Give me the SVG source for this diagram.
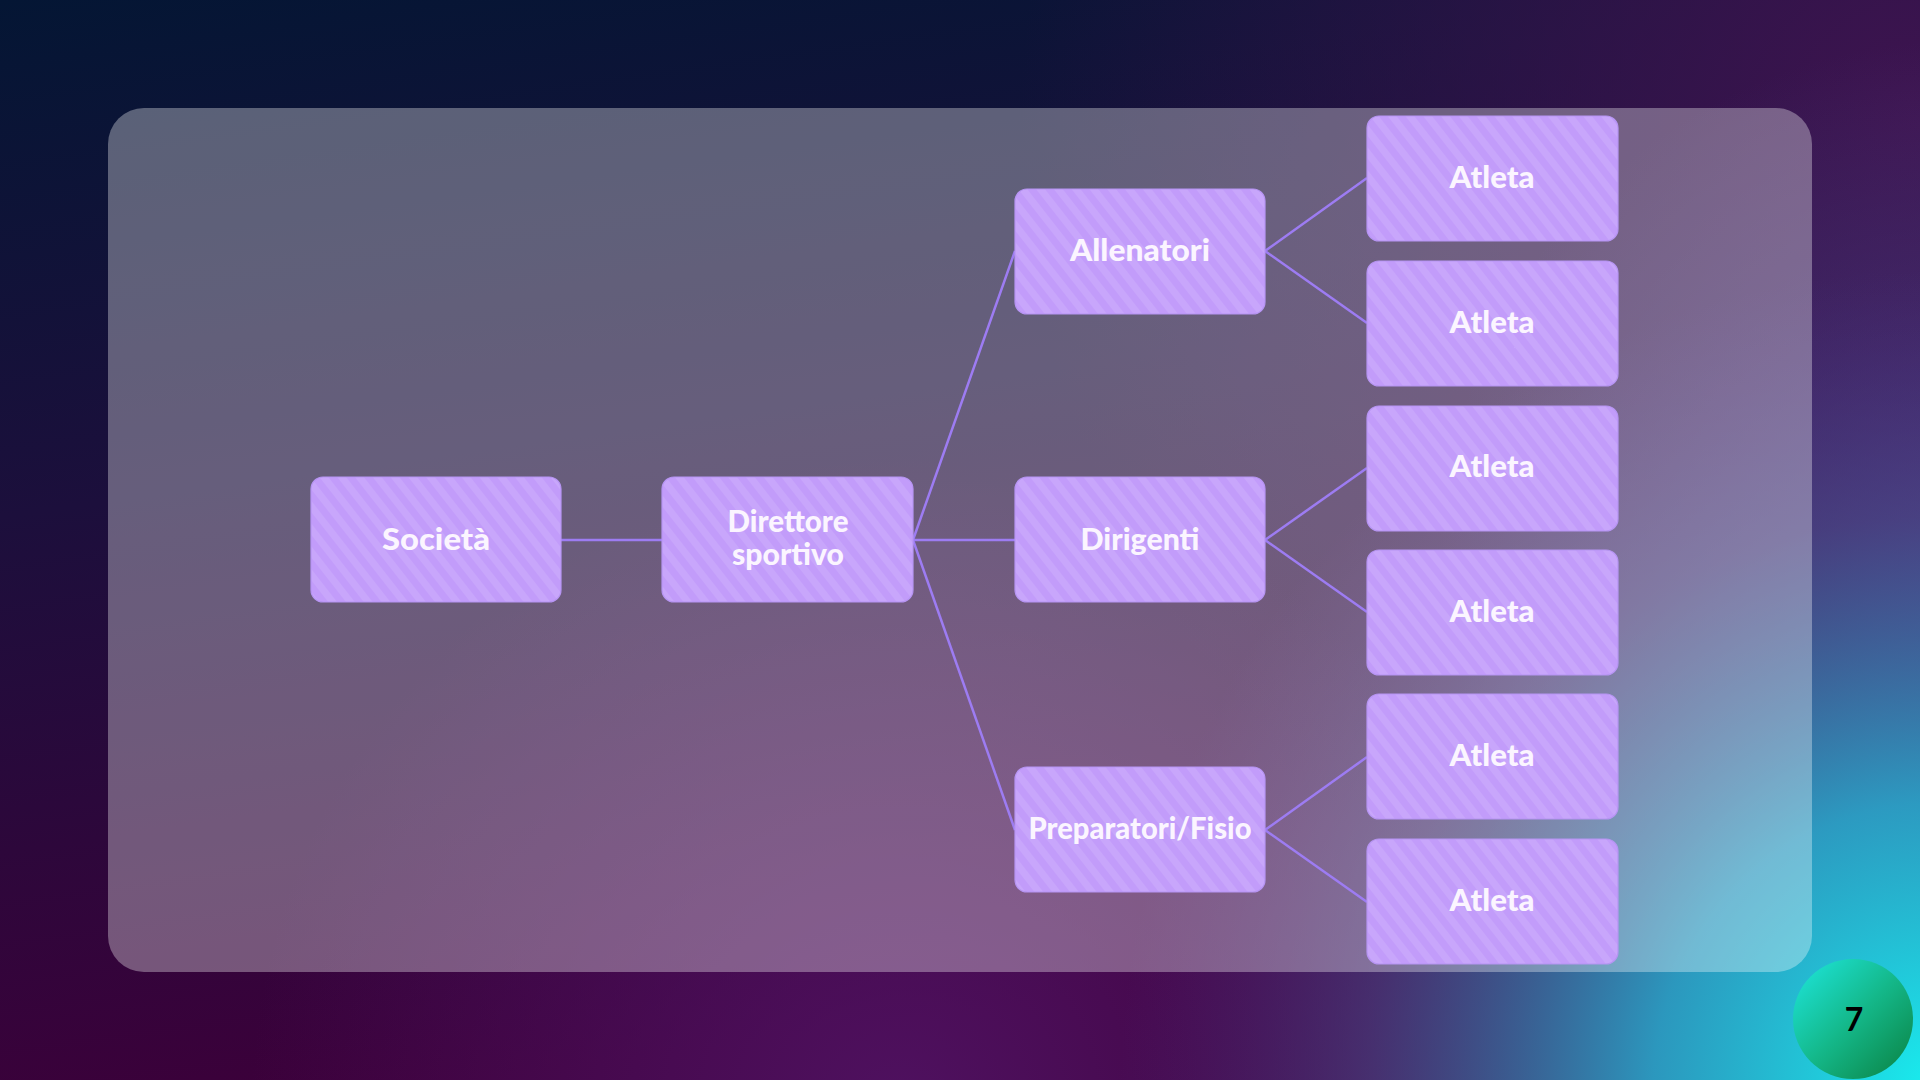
<svg xmlns="http://www.w3.org/2000/svg" width="1920" height="1080" viewBox="0 0 1920 1080">
  <defs>
    <linearGradient id="bgBase" x1="0" y1="0" x2="0.25" y2="1">
      <stop offset="0" stop-color="#041634"/>
      <stop offset="0.45" stop-color="#1c0f3c"/>
      <stop offset="1" stop-color="#3c003a"/>
    </linearGradient>
    <radialGradient id="bgTR" cx="1920" cy="120" r="900" gradientUnits="userSpaceOnUse">
      <stop offset="0" stop-color="#3e1450" stop-opacity="1"/>
      <stop offset="1" stop-color="#3e1450" stop-opacity="0"/>
    </radialGradient>
    <radialGradient id="bgRM" cx="1960" cy="560" r="520" gradientUnits="userSpaceOnUse">
      <stop offset="0" stop-color="#4a3a80" stop-opacity="0.9"/>
      <stop offset="1" stop-color="#4a3a80" stop-opacity="0"/>
    </radialGradient>
    <radialGradient id="bgBM" cx="900" cy="1110" r="650" gradientUnits="userSpaceOnUse">
      <stop offset="0" stop-color="#521466" stop-opacity="0.85"/>
      <stop offset="1" stop-color="#521466" stop-opacity="0"/>
    </radialGradient>
    <radialGradient id="bgBR" cx="1940" cy="1090" r="820" gradientUnits="userSpaceOnUse">
      <stop offset="0" stop-color="#18f0f0" stop-opacity="1"/>
      <stop offset="0.35" stop-color="#2aa8cc" stop-opacity="0.9"/>
      <stop offset="0.7" stop-color="#4a4a8a" stop-opacity="0.6"/>
      <stop offset="1" stop-color="#4a3080" stop-opacity="0"/>
    </radialGradient>
    <linearGradient id="badge" x1="0" y1="0" x2="1" y2="1">
      <stop offset="0" stop-color="#1ee8e0"/>
      <stop offset="0.5" stop-color="#14b88a"/>
      <stop offset="1" stop-color="#0a8040"/>
    </linearGradient>
    <pattern id="stripes" width="14" height="14" patternUnits="userSpaceOnUse" patternTransform="rotate(-38)">
      <rect width="14" height="14" fill="#c29cfa"/>
      <rect width="7" height="14" fill="#c8a6fb"/>
    </pattern>
    <style>
      .node { fill: url(#stripes); stroke: #b694f3; stroke-width: 1.2; }
      .lbl { font-family: Lato, "Noto Sans", "DejaVu Sans", sans-serif; font-weight: 900; font-size: 30px; fill: #fbf5ff; text-anchor: middle; }
      .conn { stroke: #9d7cf2; stroke-width: 2.5; fill: none; }
    </style>
  </defs>

  <rect width="1920" height="1080" fill="url(#bgBase)"/>
  <rect width="1920" height="1080" fill="url(#bgTR)"/>
  <rect width="1920" height="1080" fill="url(#bgRM)"/>
  <rect width="1920" height="1080" fill="url(#bgBM)"/>
  <rect width="1920" height="1080" fill="url(#bgBR)"/>

  <rect x="108" y="108" width="1704" height="864" rx="36" fill="#ffffff" fill-opacity="0.33"/>

  <g id="connectors">
    <line class="conn" x1="561" y1="540" x2="662" y2="540"/>
    <line class="conn" x1="913" y1="540" x2="1015" y2="251"/>
    <line class="conn" x1="913" y1="540" x2="1015" y2="540"/>
    <line class="conn" x1="913" y1="540" x2="1015" y2="830"/>
    <line class="conn" x1="1265" y1="251" x2="1367" y2="178"/>
    <line class="conn" x1="1265" y1="251" x2="1367" y2="323"/>
    <line class="conn" x1="1265" y1="540" x2="1367" y2="468"/>
    <line class="conn" x1="1265" y1="540" x2="1367" y2="612"/>
    <line class="conn" x1="1265" y1="830" x2="1367" y2="757"/>
    <line class="conn" x1="1265" y1="830" x2="1367" y2="902"/>
  </g>

  <g id="societa">
    <rect class="node" x="311" y="477" width="250" height="125" rx="12"/>
    <text class="lbl" x="436" y="550" textLength="108" lengthAdjust="spacingAndGlyphs">Società</text>
  </g>
  <g id="direttore">
    <rect class="node" x="662" y="477" width="251" height="125" rx="12"/>
    <text class="lbl" x="788" y="532" textLength="121" lengthAdjust="spacingAndGlyphs">Direttore</text>
    <text class="lbl" x="788" y="565" textLength="112" lengthAdjust="spacingAndGlyphs">sportivo</text>
  </g>
  <g id="allenatori">
    <rect class="node" x="1015" y="189" width="250" height="125" rx="12"/>
    <text class="lbl" x="1140" y="261" textLength="140" lengthAdjust="spacingAndGlyphs">Allenatori</text>
  </g>
  <g id="dirigenti">
    <rect class="node" x="1015" y="477" width="250" height="125" rx="12"/>
    <text class="lbl" x="1140" y="550" textLength="119" lengthAdjust="spacingAndGlyphs">Dirigenti</text>
  </g>
  <g id="preparatori">
    <rect class="node" x="1015" y="767" width="250" height="125" rx="12"/>
    <text class="lbl" x="1140" y="839" textLength="223" lengthAdjust="spacingAndGlyphs">Preparatori/Fisio</text>
  </g>
  <g id="atleta1">
    <rect class="node" x="1367" y="116" width="251" height="125" rx="12"/>
    <text class="lbl" x="1492" y="188" textLength="85" lengthAdjust="spacingAndGlyphs">Atleta</text>
  </g>
  <g id="atleta2">
    <rect class="node" x="1367" y="261" width="251" height="125" rx="12"/>
    <text class="lbl" x="1492" y="333" textLength="85" lengthAdjust="spacingAndGlyphs">Atleta</text>
  </g>
  <g id="atleta3">
    <rect class="node" x="1367" y="406" width="251" height="125" rx="12"/>
    <text class="lbl" x="1492" y="477" textLength="85" lengthAdjust="spacingAndGlyphs">Atleta</text>
  </g>
  <g id="atleta4">
    <rect class="node" x="1367" y="550" width="251" height="125" rx="12"/>
    <text class="lbl" x="1492" y="622" textLength="85" lengthAdjust="spacingAndGlyphs">Atleta</text>
  </g>
  <g id="atleta5">
    <rect class="node" x="1367" y="694" width="251" height="125" rx="12"/>
    <text class="lbl" x="1492" y="766" textLength="85" lengthAdjust="spacingAndGlyphs">Atleta</text>
  </g>
  <g id="atleta6">
    <rect class="node" x="1367" y="839" width="251" height="125" rx="12"/>
    <text class="lbl" x="1492" y="911" textLength="85" lengthAdjust="spacingAndGlyphs">Atleta</text>
  </g>

  <g id="page-number">
    <circle cx="1853" cy="1019" r="60" fill="url(#badge)"/>
    <text x="1854" y="1031" font-family="Lato, 'Noto Sans', sans-serif" font-weight="bold" font-size="32" fill="#000000" text-anchor="middle">7</text>
  </g>
</svg>
